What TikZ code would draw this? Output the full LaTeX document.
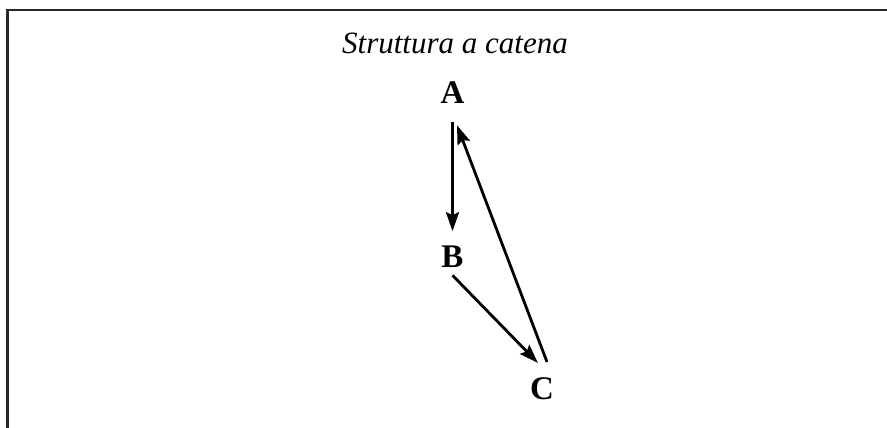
\documentclass[tikz,border=0pt]{standalone}
\usepackage{fontspec}
\setmainfont{Liberation Serif}
\usetikzlibrary{arrows.meta}

\begin{document}
\begin{tikzpicture}[x=1pt, y=1pt,
  letter/.style={font=\fontsize{33}{33}\selectfont\bfseries, inner sep=0pt, anchor=base},
  title/.style={font=\fontsize{31}{31}\selectfont\itshape, inner sep=0pt, anchor=base},
  link/.style={line width=2.8pt, -{Stealth[length=19pt, width=13pt, inset=3pt]}},
  frame/.style={line width=2.6pt, draw=black!85},
]
\useasboundingbox (0,0) rectangle (887,428);
\draw[frame] (7.5,0) -- (7.5,418) -- (887,418);

\node[title]  (head) at (455,374) {Struttura a catena};
\node[letter] (A)    at (452.5,324) {A};
\node[letter] (B)    at (452.5,160) {B};
\node[letter] (C)    at (542,28)    {C};

\draw[link] ([yshift=-18pt]A.south) -- ([yshift=15pt]B.north);
\draw[link] ([yshift=-7pt]B.south) -- ([xshift=8pt,yshift=15pt]C.north west);
\draw[link] ([xshift=5pt,yshift=16pt]C.north) -- ([xshift=4.5pt,yshift=-21pt]A.south);
\end{tikzpicture}
\end{document}
